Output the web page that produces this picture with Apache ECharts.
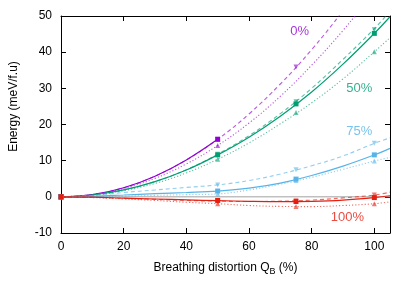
<!DOCTYPE html>
<html><head><meta charset="utf-8">
<script src="https://cdn.jsdelivr.net/npm/echarts@6/dist/echarts.min.js"></script>
<style>html,body{margin:0;padding:0;background:#fff}#c{width:415px;height:291px}</style>
</head><body><div id="c"></div>
<script>
// fit curve sample positions (x, %)
const xFit = [0,10,20,30,40,50,60,70,80,90,100,105];
const purpleSolid  = [0,0.6,2.5,5.7,10.2,15.9,null,null,null,null,null,null];
const purpleDashed = [0,0.6,2.5,5.7,10.2,15.9,22.9,31.2,40.7,51.5,63.6,70.1];
const purpleDotted = [0,0.6,2.3,5.1,9.1,14.2,20.4,27.8,36.4,46.0,56.8,62.6];
const greenSolid   = [0,0.5,1.9,4.2,7.4,11.6,16.5,22.3,29.0,36.7,45.2,49.8];
const greenDashed  = [0,0.5,1.9,4.2,7.5,11.8,16.9,23.0,30.0,38.0,46.5,51.3];
const greenDotted  = [0,0.4,1.7,3.7,6.6,10.4,14.9,20.2,26.0,32.6,40.1,44.0];
const blueSolid    = [0,0.15,0.5,0.9,1.2,1.6,2.4,3.8,5.9,8.5,11.6,13.4];
const blueDashed   = [0,0.4,1.2,1.9,2.6,3.3,4.5,6.3,8.6,11.3,14.8,16.3];
const blueDotted   = [0,0.05,0.2,0.4,0.6,0.8,1.9,3.5,5.4,7.6,9.9,10.9];
const redSolid     = [0,-0.1,-0.35,-0.6,-0.85,-1.05,-1.25,-1.35,-1.25,-0.9,-0.2,0.3];
const redDashed    = [0,-0.15,-0.4,-0.7,-1.0,-1.2,-1.3,-1.2,-0.9,-0.3,0.5,1.3];
const redDotted    = [0,-0.2,-0.6,-1.0,-1.5,-1.9,-2.4,-2.65,-2.7,-2.4,-1.9,-1.4];

// computed points
const xMark = [0,50,75,100];
const purpleSq   = [0,15.9,null,null];
const purpleDown = [0,15.9,35.9,null];
const purpleUp   = [0,14.2,null,null];
const greenSq    = [0,11.6,25.7,45.2];
const greenDown  = [0,11.8,26.3,46.2];
const greenUp    = [0,10.4,23.3,40.1];
const blueSq     = [0,1.6,4.9,11.6];
const blueDown   = [0,3.3,7.5,14.8];
const blueUp     = [0,0.8,4.5,9.9];
const redSq      = [0,-1.0,-1.3,-0.2];
const redDown    = [0,-1.2,-1.1,0.5];
const redUp      = [0,-1.9,-2.7,-1.9];

const zeroX = [0,105];
const zeroY = [0,0];

const labelText = ['0%','50%','75%','100%'];
const labelX = [76.2,95.2,95.2,91.4];
const labelY = [45.6,30.1,18.0,-5.8];

const xTicks = [0,20,40,60,80,100];
const yTicks = [-10,0,10,20,30,40,50];

const colors = ['#9400d3','#009e73','#56b4e9','#e51e10'];
const groups = [
  [purpleSolid,purpleDashed,purpleDotted,purpleSq,purpleDown,purpleUp],
  [greenSolid,greenDashed,greenDotted,greenSq,greenDown,greenUp],
  [blueSolid,blueDashed,blueDotted,blueSq,blueDown,blueUp],
  [redSolid,redDashed,redDotted,redSq,redDown,redUp]
];
const FONT = 'Liberation Sans, Arial, Helvetica, sans-serif';

function pair(xs, ys){ return xs.map((x,i)=> ys[i]==null ? null : [x, ys[i]]).filter(d=>d!==null || true); }

const series = [];
series.push({type:'line', data: zeroX.map((x,i)=>[x,zeroY[i]]), symbol:'none', silent:true,
  lineStyle:{color:'#a0a0a0', width:1}, z:1});

groups.forEach((g,gi)=>{
  const c = colors[gi];
  const styles = [
    {type:'solid', opacity:1},
    {type:[4,3], opacity:0.65},
    {type:[1.2,2], opacity:0.65}
  ];
  for (let k=0;k<3;k++){
    series.push({type:'line', data: pair(xFit, g[k]), symbol:'none', smooth:0.4, connectNulls:false,
      lineStyle:{color:c, width: k===0?1.2:1.1, type:styles[k].type, opacity:styles[k].opacity}, z:2+gi});
  }
  const syms = [['rect',5,0,1],['triangle',5,180,0.6],['triangle',5,0,0.6]];
  for (let k=0;k<3;k++){
    series.push({type:'scatter', data: xMark.map((x,i)=> g[3+k][i]==null?null:[x,g[3+k][i]]).filter(d=>d),
      symbol:syms[k][0], symbolSize:syms[k][1], symbolRotate:syms[k][2],
      itemStyle:{color:c, opacity:syms[k][3]}, z:3+gi});
  }
});

series.push({type:'scatter', symbolSize:0, silent:true, z:10,
  data: labelText.map((t,i)=>({value:[labelX[i],labelY[i]], name:t,
    label:{show:true, position:'inside', formatter:t, color:colors[i], fontSize:13, fontFamily:FONT}}))});

const chart = echarts.init(document.getElementById('c'), null, {renderer:'canvas'});
const axisCommon = {
  axisLine:{show:true, onZero:false, lineStyle:{color:'#000', width:1}},
  splitLine:{show:false}
};
chart.setOption({
  animation:false,
  backgroundColor:'#fff',
  grid:{left:60, right:25, top:16, bottom:58, containLabel:false},
  xAxis:[
    Object.assign({type:'value', min:0, max:105, interval:20, position:'bottom',
      axisTick:{show:true, inside:true, length:5, lineStyle:{color:'#000'}},
      axisLabel:{show:true, margin:8, fontSize:12, color:'#000', fontFamily:FONT,
        formatter:(v)=> xTicks.indexOf(v)>=0 ? String(v) : ''},
      name:'{a|Breathing distortion Q}{s|B}{a| (%)}', nameLocation:'middle', nameGap:26,
      nameTextStyle:{rich:{a:{fontSize:12,color:'#000',fontFamily:FONT}, s:{fontSize:9,color:'#000',fontFamily:FONT, verticalAlign:'bottom', padding:[8,0,0,0]}}}
    }, axisCommon),
    Object.assign({type:'value', min:0, max:105, interval:20, position:'top',
      axisTick:{show:true, inside:true, length:5, lineStyle:{color:'#000'}},
      axisLabel:{show:false}}, axisCommon)
  ],
  yAxis:[
    Object.assign({type:'value', min:-10, max:50, interval:10, position:'left',
      axisTick:{show:true, inside:true, length:5, lineStyle:{color:'#000'}},
      axisLabel:{show:true, margin:9, fontSize:12, color:'#000', fontFamily:FONT,
        formatter:(v)=> yTicks.indexOf(v)>=0 ? String(v) : ''},
      name:'Energy (meV/f.u)', nameLocation:'middle', nameGap:41, nameRotate:90,
      nameTextStyle:{fontSize:12, color:'#000', fontFamily:FONT, padding:[0,0,0,36]}
    }, axisCommon),
    Object.assign({type:'value', min:-10, max:50, interval:10, position:'right',
      axisTick:{show:true, inside:true, length:5, lineStyle:{color:'#000'}},
      axisLabel:{show:false}}, axisCommon)
  ],
  series: series
});
</script></body></html>
